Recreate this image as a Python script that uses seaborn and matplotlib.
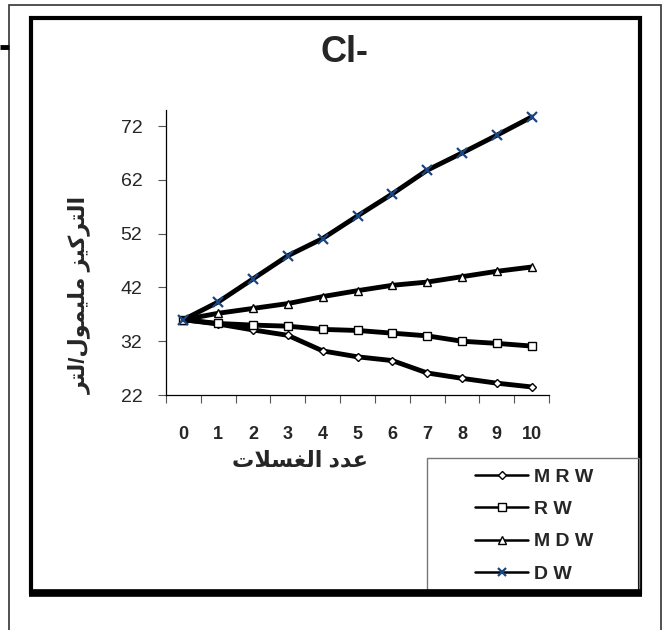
import matplotlib
matplotlib.use("Agg")
import matplotlib.pyplot as plt
from matplotlib.lines import Line2D
from matplotlib.patches import Rectangle
import seaborn as sns
import pandas as pd

# number of washes (categories on the x axis)
washes = list(range(11))
tick_labels = [str(w) for w in washes]

# Cl- concentration (mmol/l) for each water type
mrw = [36.0, 35.2, 34.1, 33.1, 30.2, 29.1, 28.4, 26.1, 25.1, 24.2, 23.5]
rw = [36.0, 35.3, 35.0, 34.8, 34.2, 34.0, 33.5, 33.0, 32.0, 31.6, 31.1]
mdw = [36.0, 37.2, 38.1, 39.0, 40.3, 41.4, 42.4, 43.0, 44.0, 45.0, 45.8]
dw = [36.0, 39.3, 43.6, 47.9, 51.1, 55.3, 59.4, 63.8, 67.0, 70.3, 73.7]

series_names = ["M R W", "R W", "M D W", "D W"]
y_ticks = [22, 32, 42, 52, 62, 72]


def arabic(forms):
    # shaped presentation forms in logical order -> visual (right to left) order
    return "".join(chr(c) for c in reversed(forms))


# عدد الغسلات
x_title = arabic([0xFECB, 0xFEAA, 0xFEA9, 0x20, 0xFE8D, 0xFEDF, 0xFED0, 0xFEB4, 0xFEFC, 0xFE95])
# التركيز مليمول/لتر
y_title = arabic([0xFE8D, 0xFEDF, 0xFE98, 0xFEAE, 0xFEDB, 0xFEF4, 0xFEB0, 0x20,
                  0xFEE3, 0xFEE0, 0xFEF4, 0xFEE4, 0xFEEE, 0xFEDD, ord("/"),
                  0xFEDF, 0xFE98, 0xFEAE])

df = pd.DataFrame({"wash": washes * 4,
                   "value": mrw + rw + mdw + dw,
                   "series": [n for n in series_names for _ in washes]})

sns.set_style("white")
plt.rcParams["font.family"] = ["Liberation Sans", "DejaVu Sans"]

W, H = 665, 630
fig = plt.figure(figsize=(W / 100, H / 100), dpi=100)
ax = fig.add_axes([166 / W, 1 - 395 / H, 383 / W, 285 / H])
ax.set_facecolor("none")

styles = {
    "M R W": dict(marker="D", ms=4.5, mfc="white", mec="black", mew=1.0),
    "R W": dict(marker="s", ms=6, mfc="white", mec="black", mew=1.0),
    "M D W": dict(marker="^", ms=6, mfc="white", mec="black", mew=1.0),
    "D W": dict(marker="x", ms=7, mfc="#1a4680", mec="#1a4680", mew=1.6),
}

for name in series_names:
    sub = df[df["series"] == name]
    sns.lineplot(data=sub, x="wash", y="value", color="black", linewidth=3.5,
                 ax=ax, legend=False)
    line = ax.lines[-1]
    st = styles[name]
    line.set_marker(st["marker"])
    line.set_markersize(st["ms"])
    line.set_markerfacecolor(st["mfc"])
    line.set_markeredgecolor(st["mec"])
    line.set_markeredgewidth(st["mew"])

ax.set_xlim(-0.5, 10.5)
ax.set_ylim(22, 75)
ax.set_yticks(y_ticks)
ax.tick_params(axis="y", length=6, width=0.8, color="#555555", pad=11, labelsize=14,
               left=True, direction="out")
ax.set_xticks(washes)
ax.set_xticklabels(tick_labels, fontsize=13, fontweight="bold")
ax.set_xticks([w - 0.5 for w in washes] + [10.5], minor=True)
ax.tick_params(axis="x", which="major", length=0, pad=22)
ax.tick_params(axis="x", which="minor", length=6, width=0.8, color="#555555",
               bottom=True, direction="out")

for side in ["top", "right"]:
    ax.spines[side].set_visible(False)
for side in ["left", "bottom"]:
    ax.spines[side].set_color("black")
    ax.spines[side].set_linewidth(0.9)

ax.set_xlabel(x_title, fontsize=16, fontweight="bold", va="center")
ax.xaxis.set_label_coords((300 - 166) / 383, -(461 - 395) / 285)
ax.set_ylabel(y_title, fontsize=16, fontweight="bold", va="center")
ax.yaxis.set_label_coords((80 - 166) / 383, (395 - 295) / 285)

fig.text(344 / W, 1 - 53 / H, "Cl-", ha="center", va="center", fontsize=26,
         fontweight="bold")

# frames around the chart
fig.patches.append(Rectangle((9 / W, -0.05), 652 / W, 1.05 - 5 / H, transform=fig.transFigure,
                             fill=False, edgecolor="#333333", linewidth=1.2))
fig.patches.append(Rectangle((30.5 / W, 1 - 592 / H), 609.5 / W, (592 - 17.5) / H,
                             transform=fig.transFigure, fill=False, edgecolor="black",
                             linewidth=3.0))
fig.lines.append(Line2D([29 / W, 642 / W], [1 - 592.5 / H, 1 - 592.5 / H],
                        transform=fig.transFigure, color="black", linewidth=5.5,
                        solid_capstyle="butt"))
fig.lines.append(Line2D([0, 9 / W], [1 - 46.5 / H, 1 - 46.5 / H],
                        transform=fig.transFigure, color="black", linewidth=3.5,
                        solid_capstyle="butt"))

# legend box
fig.patches.append(Rectangle((427 / W, 1 - 590 / H), 212 / W, (590 - 458) / H,
                             transform=fig.transFigure, fill=False, edgecolor="#777777",
                             linewidth=1.0))
handles = []
for name in series_names:
    st = styles[name]
    handles.append(Line2D([0], [0], color="black", linewidth=1.8, marker=st["marker"],
                          markersize=st["ms"] * 0.85, markerfacecolor=st["mfc"],
                          markeredgecolor=st["mec"], markeredgewidth=st["mew"]))
fig.legend(handles, series_names, loc="center left",
           bbox_to_anchor=(475 / W, 1 - 525.5 / H), frameon=False, borderpad=0,
           borderaxespad=0, handlelength=2.75, handletextpad=0.3, labelspacing=0.75,
           prop={"size": 14, "weight": "bold"})

fig.savefig("out.png", dpi=100)
